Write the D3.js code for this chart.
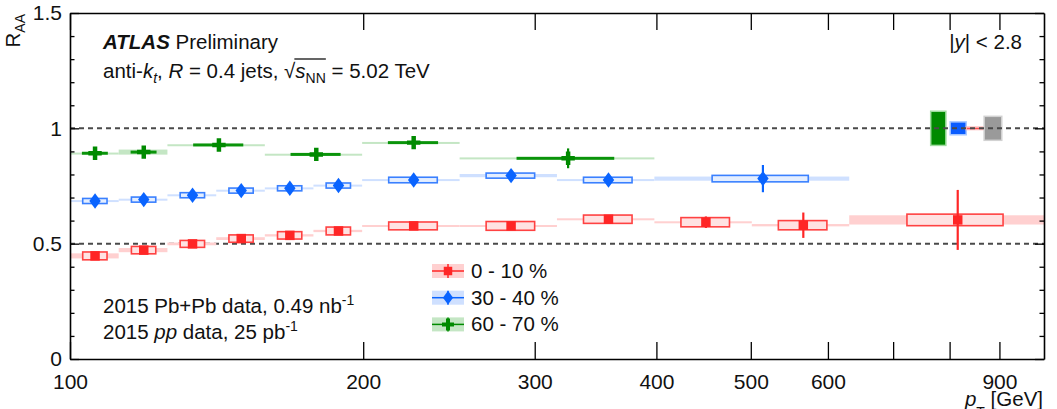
<!DOCTYPE html>
<html>
<head>
<meta charset="utf-8">
<script src="https://cdn.jsdelivr.net/npm/d3@7"></script>
<style>
body { margin: 0; background: #fff; }
svg { display: block; font-family: "Liberation Sans", Arial, sans-serif; }
</style>
</head>
<body>
<svg id="chart" width="1057" height="409"></svg>
<script>
// ---- data ----
// 0-10 %
var edges0010 = [100, 112.2, 125.9, 141.3, 158.5, 177.8, 199.5, 251.2, 316.2, 398.1, 501.2, 631, 1000];
var raa0010  = [0.447, 0.472, 0.499, 0.522, 0.536, 0.555, 0.577, 0.577, 0.606, 0.593, 0.580, 0.603];
var stat0010 = [0.008, 0.008, 0.008, 0.008, 0.008, 0.008, 0.008, 0.010, 0.015, 0.025, 0.055, 0.130];
var sys0010  = [0.017, 0.016, 0.015, 0.016, 0.016, 0.017, 0.017, 0.019, 0.018, 0.020, 0.020, 0.025];
var unc0010  = [0.011, 0.009, 0.006, 0.006, 0.005, 0.005, 0.004, 0.004, 0.004, 0.004, 0.005, 0.020];

// 30-40 %
var edges3040 = [100, 112.2, 125.9, 141.3, 158.5, 177.8, 199.5, 251.2, 316.2, 398.1, 631];
var raa3040  = [0.685, 0.691, 0.710, 0.730, 0.740, 0.752, 0.776, 0.795, 0.776, 0.782];
var stat3040 = [0.012, 0.012, 0.012, 0.012, 0.012, 0.012, 0.012, 0.012, 0.020, 0.059];
var sys3040  = [0.011, 0.011, 0.011, 0.011, 0.011, 0.011, 0.012, 0.011, 0.012, 0.014];
var unc3040  = [0.004, 0.004, 0.004, 0.004, 0.004, 0.004, 0.004, 0.007, 0.004, 0.009];

// 60-70 %
var edges6070 = [100, 112.2, 125.9, 158.5, 199.5, 251.2, 398.1];
var raa6070  = [0.892, 0.897, 0.928, 0.887, 0.938, 0.870];
var stat6070 = [0.014, 0.014, 0.014, 0.014, 0.018, 0.043];
var sys6070  = [0.003, 0.003, 0.003, 0.003, 0.003, 0.003];
var unc6070  = [0.003, 0.011, 0.003, 0.003, 0.003, 0.004];

// normalisation boxes at RAA = 1
var normNames = ["60 - 70 %", "30 - 40 %", "0 - 10 %", "lumi"];
var normLo  = [765, 801, 832, 868];
var normHi  = [793, 832, 866, 905];
var normErr = [0.074, 0.028, 0.005, 0.052];

var xTicks = [100, 200, 300, 400, 500, 600, 700, 800, 900];
var xTickLabels = {100: "100", 200: "200", 300: "300", 400: "400", 500: "500", 600: "600", 900: "900"};
var yMajor = [0, 0.5, 1, 1.5];
var yLabels = ["0", "0.5", "1", "1.5"];
var yMinor = [0.1, 0.2, 0.3, 0.4, 0.6, 0.7, 0.8, 0.9, 1.1, 1.2, 1.3, 1.4];
var legendLabels = ["0 - 10 %", "30 - 40 %", "60 - 70 %"];

// ---- layout ----
var L = 70, R = 1044, T = 13, B = 359;
var svg = d3.select("#chart");
var x = d3.scaleLog().domain([100, 1000]).range([L, R]);
var y = d3.scaleLinear().domain([0, 1.5]).range([B, T]);

var diamond = {
    draw: function(ctx, size) {
        var h = Math.sqrt(size) / 2;
        ctx.moveTo(0, -h * 1.35);
        ctx.lineTo(h, 0);
        ctx.lineTo(0, h * 1.35);
        ctx.lineTo(-h, 0);
        ctx.closePath();
    }
};

var series = [
    {name: legendLabels[0], edges: edges0010, raa: raa0010, stat: stat0010, sys: sys0010, unc: unc0010,
     main: "#ff2626", boxStroke: "#ff4242", boxFill: "#ffe2e2", pale: "#ffd0d0", sym: d3.symbolSquare, size: 90},
    {name: legendLabels[1], edges: edges3040, raa: raa3040, stat: stat3040, sys: sys3040, unc: unc3040,
     main: "#0a64ff", boxStroke: "#3a80ff", boxFill: "#e4eeff", pale: "#cfe0ff", sym: diamond, size: 130},
    {name: legendLabels[2], edges: edges6070, raa: raa6070, stat: stat6070, sys: sys6070, unc: unc6070,
     main: "#008a00", boxStroke: "#0a940a", boxFill: "#bfe3bf", pale: "#c4e6c4", sym: d3.symbolCross, size: 100}
];

// normalisation boxes
var normFill = ["#008a00", "#0a5cff", "#ff3030", "#9a9a9a"];
var normEdge = ["#9fdc9f", "#a9c8ff", "#ffb0b0", "#d2d2d2"];
svg.append("g").selectAll("rect").data(normNames).join("rect")
    .attr("x", function(d, i) { return x(normLo[i]); })
    .attr("width", function(d, i) { return x(normHi[i]) - x(normLo[i]); })
    .attr("y", function(d, i) { return y(1 + normErr[i]); })
    .attr("height", function(d, i) { return Math.max(2, y(1 - normErr[i]) - y(1 + normErr[i])); })
    .attr("fill", function(d, i) { return normFill[i]; })
    .attr("stroke", function(d, i) { return normEdge[i]; })
    .attr("stroke-width", 1.5);

// dashed reference lines
svg.append("g").selectAll("line").data([1, 0.5]).join("line")
    .attr("x1", L).attr("x2", R)
    .attr("y1", function(d) { return y(d); }).attr("y2", function(d) { return y(d); })
    .attr("stroke", "#4a4a4a").attr("stroke-width", 2).attr("stroke-dasharray", "5,4");

series.forEach(function(s) {
    var pts = s.raa.map(function(v, i) {
        var lo = s.edges[i], hi = s.edges[i + 1];
        return {lo: lo, hi: hi, c: (lo + hi) / 2, q: (hi - lo) / 4, v: v, stat: s.stat[i], sys: s.sys[i], unc: s.unc[i]};
    });
    var g = svg.append("g");
    // full-bin pale band
    g.selectAll(".band").data(pts).join("rect").attr("class", "band")
        .attr("x", function(d) { return x(d.lo); })
        .attr("width", function(d) { return x(d.hi) - x(d.lo); })
        .attr("y", function(d) { return y(d.v + d.unc); })
        .attr("height", function(d) { return Math.max(2, y(d.v - d.unc) - y(d.v + d.unc)); })
        .attr("fill", s.pale);
    // systematic boxes
    g.selectAll(".box").data(pts).join("rect").attr("class", "box")
        .attr("x", function(d) { return x(d.c - d.q); })
        .attr("width", function(d) { return x(d.c + d.q) - x(d.c - d.q); })
        .attr("y", function(d) { return y(d.v + d.sys); })
        .attr("height", function(d) { return y(d.v - d.sys) - y(d.v + d.sys); })
        .attr("fill", s.boxFill).attr("stroke", s.boxStroke).attr("stroke-width", 1.6);
    // statistical errors
    g.selectAll(".stat").data(pts).join("line").attr("class", "stat")
        .attr("x1", function(d) { return x(d.c); }).attr("x2", function(d) { return x(d.c); })
        .attr("y1", function(d) { return y(d.v + d.stat); })
        .attr("y2", function(d) { return y(d.v - d.stat); })
        .attr("stroke", s.main).attr("stroke-width", 2.2);
    // markers
    g.selectAll(".mk").data(pts).join("path").attr("class", "mk")
        .attr("transform", function(d) { return "translate(" + x(d.c) + "," + y(d.v) + ")"; })
        .attr("d", d3.symbol(s.sym, s.size))
        .attr("fill", s.main);
});

// ---- axes ----
function styleAxis(g) {
    g.attr("font-family", null).attr("font-size", 21);
    g.select(".domain").attr("stroke", "#000").attr("stroke-width", 1.6);
    g.selectAll(".tick line").attr("stroke", "#000").attr("stroke-width", 1.3);
    g.selectAll(".tick text").attr("fill", "#111");
}
svg.append("g").attr("transform", "translate(0," + B + ")")
    .call(d3.axisBottom(x).tickValues(xTicks).tickSize(-17).tickSizeOuter(0).tickPadding(15)
        .tickFormat(function(d) { return xTickLabels[d] || ""; }))
    .call(styleAxis);
svg.append("g").attr("transform", "translate(0," + T + ")")
    .call(d3.axisTop(x).tickValues(xTicks).tickSize(-17).tickSizeOuter(0).tickFormat(""))
    .call(styleAxis);
svg.append("g").attr("transform", "translate(" + L + ",0)")
    .call(d3.axisLeft(y).tickValues(yMajor).tickSize(-9).tickSizeOuter(0).tickPadding(8)
        .tickFormat(function(d, i) { return yLabels[i]; }))
    .call(styleAxis);
svg.append("g").attr("transform", "translate(" + L + ",0)")
    .call(d3.axisLeft(y).tickValues(yMinor).tickSize(-4.5).tickFormat(""))
    .call(styleAxis).select(".domain").remove();
svg.append("g").attr("transform", "translate(" + R + ",0)")
    .call(d3.axisRight(y).tickValues(yMajor).tickSize(-9).tickSizeOuter(0).tickFormat(""))
    .call(styleAxis);
svg.append("g").attr("transform", "translate(" + R + ",0)")
    .call(d3.axisRight(y).tickValues(yMinor).tickSize(-4.5).tickFormat(""))
    .call(styleAxis).select(".domain").remove();

// ---- text ----
function rich(parent, x0, y0, parts, anchor) {
    var t = parent.append("text").attr("x", x0).attr("y", y0)
        .attr("font-size", 20.5).attr("fill", "#111");
    if (anchor) t.attr("text-anchor", anchor);
    var shift = 0;
    parts.forEach(function(p) {
        var sp = t.append("tspan").text(p.t);
        var target = p.sub ? (p.low || 5) : (p.sup ? -8 : 0);
        if (target !== shift) { sp.attr("dy", target - shift); shift = target; }
        if (p.sub || p.sup) sp.attr("font-size", 14);
        if (p.i) sp.attr("font-style", "italic");
        if (p.b) sp.attr("font-weight", "bold");
        if (p.id) sp.attr("id", p.id);
    });
    return t;
}

rich(svg, 103, 49, [{t: "ATLAS", b: 1, i: 1}, {t: " Preliminary"}]);
rich(svg, 103, 78, [{t: "anti-"}, {t: "k", i: 1}, {t: "t", i: 1, sub: 1}, {t: ", "}, {t: "R", i: 1},
    {t: " = 0.4 jets, \u221A"}, {t: "s", i: 1, id: "ovS"}, {t: "NN", sub: 1, id: "ovNN"}, {t: " = 5.02 TeV"}]);
var bS = document.getElementById("ovS").getBBox(), bN = document.getElementById("ovNN").getBBox();
svg.append("line").attr("x1", bS.x - 1).attr("x2", bN.x + bN.width)
    .attr("y1", 59).attr("y2", 59).attr("stroke", "#111").attr("stroke-width", 1.3);

rich(svg, 1022, 49, [{t: "|"}, {t: "y", i: 1}, {t: "| < 2.8"}], "end");
rich(svg, 103, 313, [{t: "2015 Pb+Pb data, 0.49 nb"}, {t: "-1", sup: 1}]);
rich(svg, 103, 339, [{t: "2015 "}, {t: "pp", i: 1}, {t: " data, 25 pb"}, {t: "-1", sup: 1}]);

// axis titles
var yt = svg.append("g").attr("transform", "translate(20," + (T + 1) + ") rotate(-90)");
rich(yt, 0, 0, [{t: "R"}, {t: "AA", sub: 1}], "end");
rich(svg, 1043, 406, [{t: "p", i: 1}, {t: "T", sub: 1, low: 11}, {t: " [GeV]"}], "end");

// ---- legend ----
var lg = svg.append("g");
series.forEach(function(s, i) {
    var cy = 271 + i * 26.7;
    lg.append("rect").attr("x", 432).attr("width", 32).attr("y", cy - 7).attr("height", 14).attr("fill", s.pale);
    lg.append("line").attr("x1", 432).attr("x2", 464).attr("y1", cy).attr("y2", cy)
        .attr("stroke", s.main).attr("stroke-width", 1.5);
    lg.append("line").attr("x1", 448).attr("x2", 448).attr("y1", cy - 7).attr("y2", cy + 7)
        .attr("stroke", s.main).attr("stroke-width", 1.5);
    lg.append("path").attr("transform", "translate(448," + cy + ")")
        .attr("d", d3.symbol(s.sym, s.size * 0.8)).attr("fill", s.main);
    rich(lg, 471, cy + 7, [{t: s.name}]);
});
</script>
</body>
</html>
